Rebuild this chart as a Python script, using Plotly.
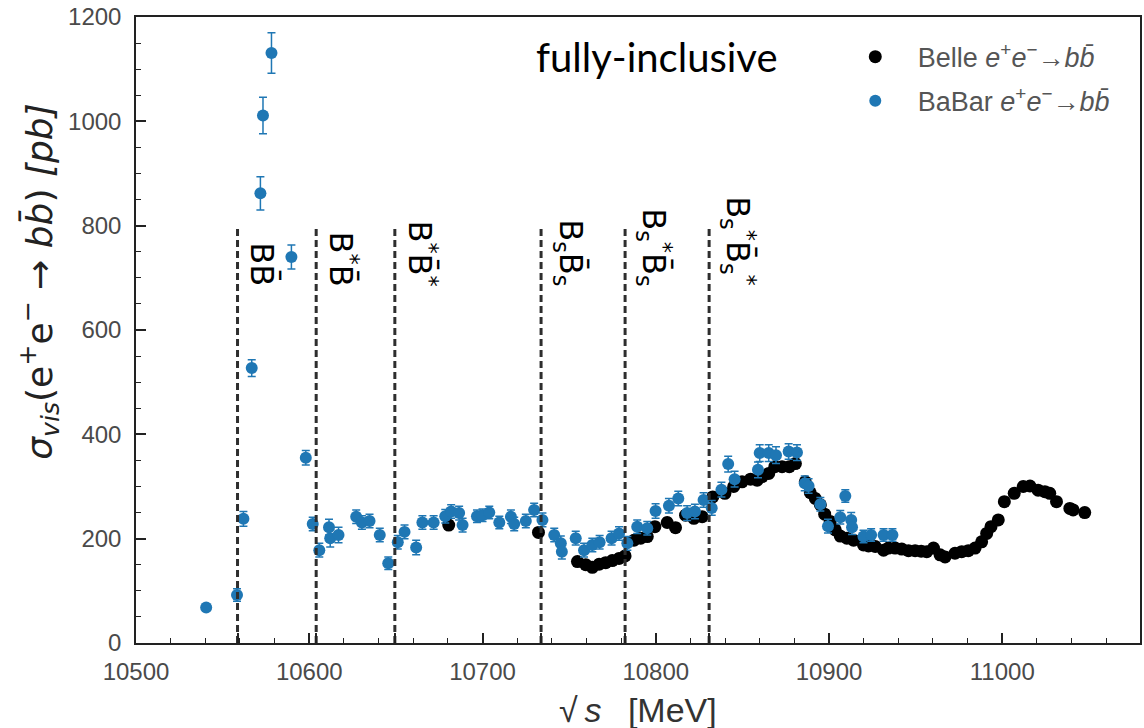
import plotly.graph_objects as go

# Belle e+e- -> b bbar visible cross section
belle_x = [10680.5, 10732.3, 10754.8, 10759.6, 10763.4, 10767.3, 10771.1, 10774.9, 10778.8, 10782.3,
           10787.4, 10791.3, 10795.1, 10799.5, 10806.6, 10811.4, 10817.2, 10822.0, 10826.8, 10832.9,
           10839.9, 10845.0, 10849.8, 10854.7, 10858.5, 10861.4, 10865.2, 10868.7, 10872.9, 10877.1,
           10880.6, 10886.3, 10889.2, 10892.1, 10895.0, 10897.5, 10900.7, 10903.6, 10906.5, 10910.3,
           10914.2, 10919.9, 10922.8, 10926.7, 10931.5, 10934.3, 10938.2, 10942.0, 10945.9, 10949.7,
           10953.2, 10956.4, 10960.3, 10964.1, 10967.0, 10972.7, 10976.6, 10980.4, 10984.3, 10988.1,
           10991.0, 10993.5, 10997.7, 11001.2, 11006.9, 11012.1, 11016.0, 11020.7, 11024.6, 11027.4,
           11031.3, 11039.0, 11040.9, 11047.6]
belle_y = [226, 212, 156, 150, 145, 151, 154, 158, 162, 167,
           197, 201, 204, 223, 231, 221, 245, 239, 242, 280,
           287, 300, 309, 314, 312, 319, 325, 338, 338, 338,
           344, 309, 288, 277, 265, 247, 233, 217, 205, 201,
           197, 188, 186, 185, 178, 182, 182, 180, 177, 177,
           176, 175, 182, 169, 165, 172, 175, 177, 182, 194,
           210, 223, 236, 271, 287, 300, 301, 293, 290, 287,
           271, 258, 255, 250]
belle_err = [8] * len(belle_x)

# BaBar e+e- -> b bbar visible cross section
babar_x = [10540.5, 10558.3, 10562.0, 10566.8, 10571.8, 10573.3, 10578.2, 10589.7, 10598.0, 10602.0,
           10605.8, 10611.4, 10612.1, 10616.9, 10627.1, 10630.4, 10634.8, 10640.7, 10645.6, 10651.1,
           10655.0, 10661.7, 10665.3, 10671.8, 10678.5, 10681.9, 10686.5, 10688.5, 10696.8, 10700.0,
           10703.9, 10709.7, 10716.4, 10718.3, 10725.0, 10729.8, 10734.6, 10741.4, 10745.2, 10745.8,
           10753.8, 10758.6, 10763.4, 10767.6, 10774.5, 10778.8, 10783.6, 10789.3, 10795.1, 10799.9,
           10807.6, 10813.0, 10818.1, 10822.6, 10827.6, 10832.3, 10837.9, 10841.8, 10845.5, 10859.0,
           10860.0, 10865.2, 10869.4, 10876.7, 10881.5, 10886.0, 10888.2, 10895.0, 10899.4, 10906.5,
           10909.4, 10912.8, 10913.3, 10919.9, 10924.3, 10931.5, 10936.6]
babar_y = [68, 92, 238, 527, 862, 1011, 1131, 740, 355, 228,
           178, 222, 201, 207, 242, 231, 234, 207, 153, 193,
           213, 183, 231, 231, 243, 252, 249, 226, 243, 245,
           250, 231, 242, 228, 234, 255, 236, 207, 191, 175,
           201, 178, 188, 193, 201, 210, 191, 223, 220, 253,
           263, 277, 249, 252, 274, 259, 294, 343, 314, 332,
           364, 364, 360, 367, 365, 306, 301, 266, 224, 241,
           282, 236, 222, 204, 207, 207, 207]
babar_err = [4, 12, 14, 16, 32, 35, 39, 23, 14, 13,
             13, 15, 17, 15, 13, 13, 13, 13, 12, 13,
             13, 14, 13, 13, 13, 13, 13, 13, 12, 12,
             12, 12, 13, 13, 13, 13, 13, 13, 14, 14,
             13, 13, 13, 13, 13, 13, 13, 13, 13, 14,
             14, 14, 14, 14, 14, 14, 14, 15, 15, 15,
             16, 16, 16, 15, 15, 14, 14, 13, 13, 13,
             12, 14, 14, 12, 12, 12, 12]

# open-flavour thresholds
thresholds = [10558.6, 10604.0, 10649.4, 10733.8, 10782.3, 10830.8]
threshold_labels = ["BB\u0304", "B<sup>*</sup>B\u0304", "B<sup>*</sup>B\u0304<sup>*</sup>",
                    "B<sub>s</sub>B\u0304<sub>s</sub>", "B<sub>s</sub><sup>*</sup>B\u0304<sub>s</sub>",
                    "B<sub>s</sub><sup>*</sup>B\u0304<sub>s</sub><sup>*</sup>"]
threshold_top = 800
label_base = 680

x_tick_vals = [10500, 10600, 10700, 10800, 10900, 11000]
x_tick_text = ["10500", "10600", "10700", "10800", "10900", "11000"]
y_tick_vals = [0, 200, 400, 600, 800, 1000, 1200]
y_tick_text = ["0", "200", "400", "600", "800", "1000", "1200"]

x_range = [10500, 11079.5]
y_range = [0, 1200]

BLUE = "#1f77b4"
AXIS = "#222222"
TICKFONT = dict(family="Liberation Sans, Arial, sans-serif", size=24, color="#4a4a4a")

fig = go.Figure()

# dashed threshold markers
line_x, line_y = [], []
for t in thresholds:
    line_x += [t, t, None]
    line_y += [0, threshold_top, None]
fig.add_trace(go.Scatter(
    x=line_x, y=line_y, mode="lines", xaxis="x2",
    line=dict(color="#2e2e2e", width=3, dash="7px,4px"),
    showlegend=False, hoverinfo="skip"))

fig.add_trace(go.Scatter(
    x=belle_x, y=belle_y, mode="markers",
    name="Belle <i>e</i><sup>+</sup><i>e</i><sup>\u2212</sup>\u2192<i>bb\u0304</i>",
    legendgroup="belle",
    marker=dict(color="black", size=13),
    error_y=dict(type="data", array=belle_err, color="black", thickness=1.5, width=4)))

fig.add_trace(go.Scatter(
    x=babar_x, y=babar_y, mode="markers",
    name="BaBar <i>e</i><sup>+</sup><i>e</i><sup>\u2212</sup>\u2192<i>bb\u0304</i>",
    legendgroup="babar",
    marker=dict(color=BLUE, size=12),
    error_y=dict(type="data", array=babar_err, color=BLUE, thickness=1.5, width=4)))

annotations = []
for t, lab in zip(thresholds, threshold_labels):
    annotations.append(dict(
        x=t, y=label_base, xref="x", yref="y", text=lab, textangle=90,
        xanchor="left", yanchor="bottom", xshift=4, showarrow=False,
        font=dict(family="DejaVu Sans", size=32, color="black")))

annotations.append(dict(
    x=0.519, y=0.936, xref="paper", yref="paper", text="fully-inclusive",
    showarrow=False, xanchor="center", yanchor="middle",
    font=dict(family="Lato", size=40, color="black")))

annotations.append(dict(
    x=-0.096, y=0.578, xref="paper", yref="paper", textangle=-90,
    text="<i>\u03c3<sub>vis</sub></i>(e<sup>+</sup>e<sup>\u2212</sup> \u2192 <i>bb\u0304</i>) <i>[pb]</i>",
    showarrow=False, xanchor="center", yanchor="middle",
    font=dict(family="DejaVu Sans", size=36, color="#222222")))

annotations.append(dict(
    x=0.5, y=-0.107, xref="paper", yref="paper",
    text="\u221a\u2009<i>s</i>\u2002 [MeV]", showarrow=False, xanchor="center", yanchor="middle",
    font=dict(family="Liberation Sans, Arial, sans-serif", size=34, color="#333333")))

fig.update_layout(
    width=1144, height=728,
    margin=dict(l=136, r=2, t=17, b=85),
    paper_bgcolor="white", plot_bgcolor="white",
    showlegend=True,
    legend=dict(x=0.694, y=0.975, xanchor="left", yanchor="top",
                bgcolor="rgba(0,0,0,0)", traceorder="grouped", tracegroupgap=6,
                itemwidth=75,
                font=dict(family="Liberation Sans, Arial, sans-serif", size=27, color="#555555")),
    xaxis=dict(range=x_range, tickvals=x_tick_vals, ticktext=x_tick_text,
               ticks="inside", ticklen=10, tickwidth=1.5, tickcolor=AXIS,
               minor=dict(dtick=20, tick0=10500, ticks="inside", ticklen=5, tickwidth=1, tickcolor=AXIS),
               showline=True, linecolor=AXIS, linewidth=1.5, mirror=True,
               showgrid=False, zeroline=False, tickfont=TICKFONT, ticklabelstandoff=6),
    xaxis2=dict(range=x_range, matches="x", overlaying="x", anchor="y", side="bottom",
                tickvals=thresholds, ticks="inside", ticklen=10, tickwidth=1.5, tickcolor=AXIS,
                showticklabels=False, showline=False, showgrid=False, zeroline=False),
    yaxis=dict(range=y_range, tickvals=y_tick_vals, ticktext=y_tick_text,
               ticks="inside", ticklen=10, tickwidth=1.5, tickcolor=AXIS,
               minor=dict(dtick=50, ticks="inside", ticklen=5, tickwidth=1, tickcolor=AXIS),
               showline=True, linecolor=AXIS, linewidth=1.5, mirror=True,
               showgrid=False, zeroline=False, tickfont=TICKFONT, ticklabelstandoff=8),
    annotations=annotations,
)

fig.write_html("out.html")
